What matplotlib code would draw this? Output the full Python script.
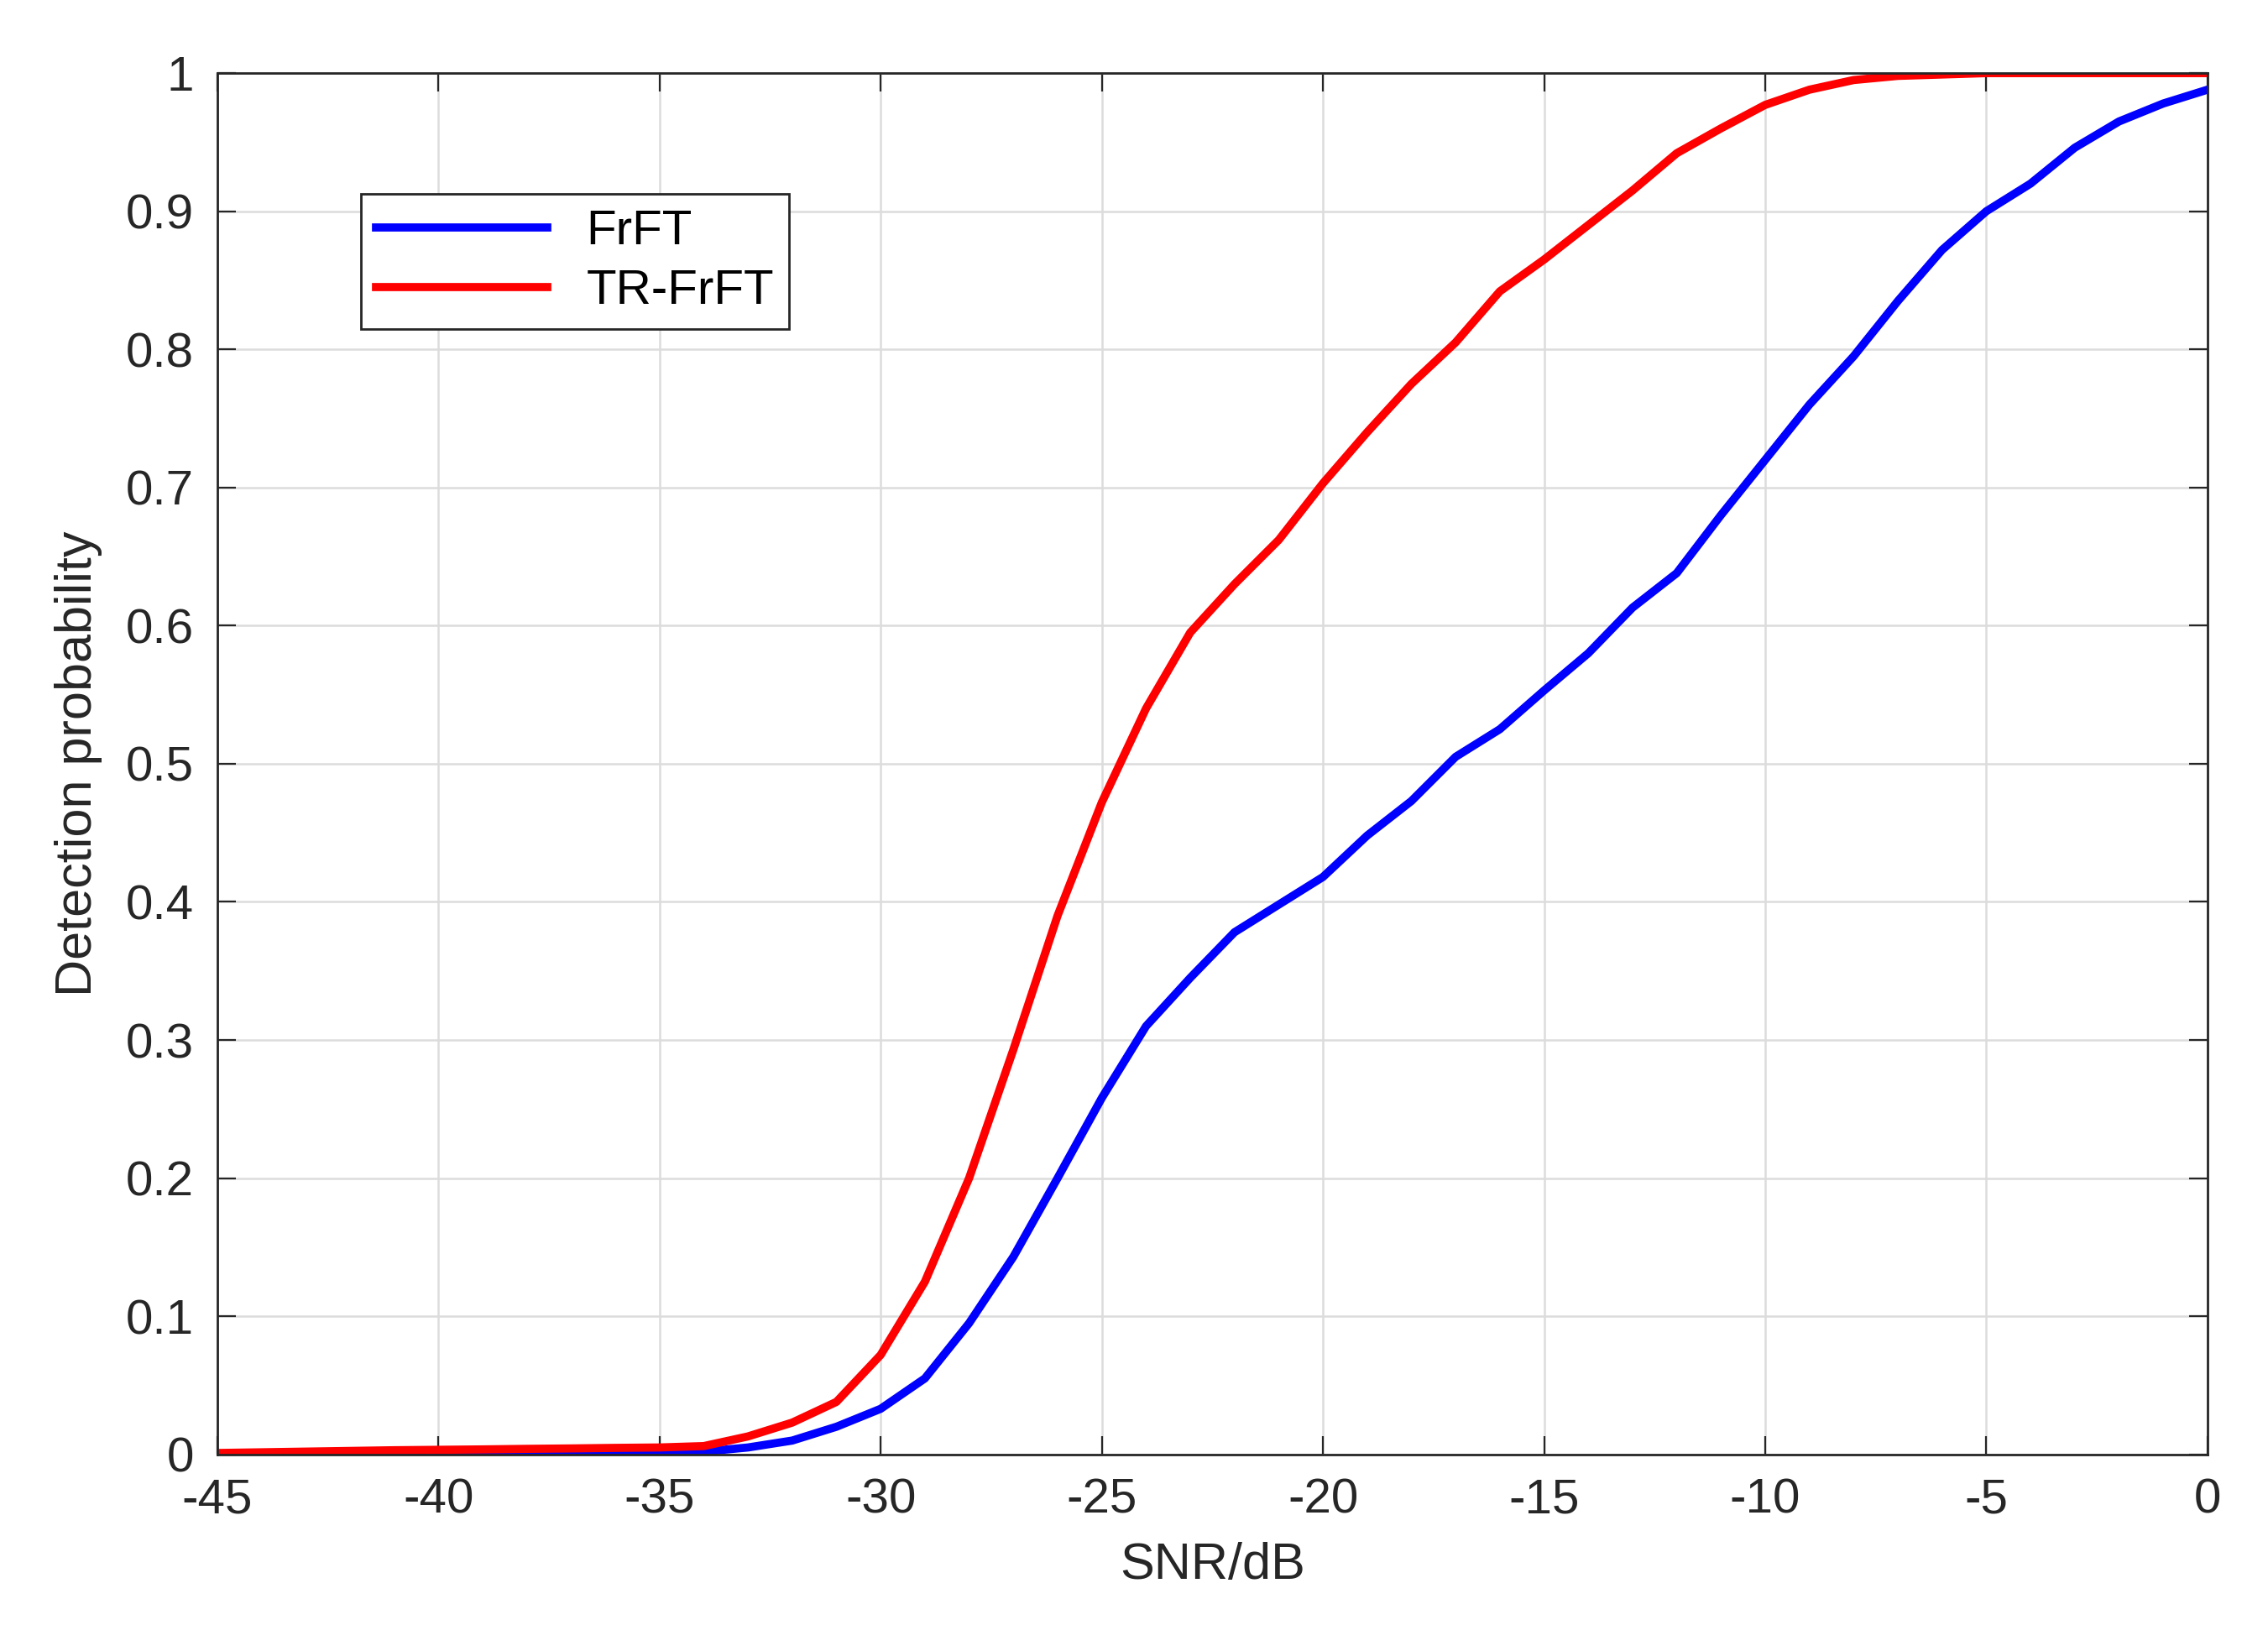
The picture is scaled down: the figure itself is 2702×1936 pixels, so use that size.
import matplotlib
matplotlib.use("Agg")
import matplotlib.pyplot as plt
import numpy as np

snr = list(range(-45, 1))
frft = [0.0005,0.0006,0.0007,0.0008,0.0009,0.001,0.0011,0.0012,0.0013,0.0014,0.0015,0.002,
        0.005,0.01,0.02,0.033,0.055,0.095,0.143,0.2,0.258,0.31,0.345,0.378,0.398,0.418,0.448,
        0.473,0.505,0.525,0.553,0.58,0.613,0.638,0.68,0.72,0.76,0.795,0.835,0.872,0.9,0.92,
        0.946,0.965,0.978,0.988]
trfrft = [0.001,0.0015,0.002,0.0025,0.003,0.0033,0.0036,0.004,0.0043,0.0047,0.005,0.006,
          0.013,0.023,0.038,0.072,0.125,0.2,0.293,0.39,0.472,0.54,0.595,0.63,0.662,0.703,0.74,
          0.775,0.805,0.842,0.865,0.89,0.915,0.942,0.96,0.977,0.988,0.995,0.998,0.999,1,1,
          1,1,1,1]
xticks = list(range(-45, 1, 5))
xticklabels = [str(v) for v in xticks]
yticks = [0, 0.1, 0.2, 0.3, 0.4, 0.5, 0.6, 0.7, 0.8, 0.9, 1]
yticklabels = ['0', '0.1', '0.2', '0.3', '0.4', '0.5', '0.6', '0.7', '0.8', '0.9', '1']

plt.rcParams['font.family'] = ['Liberation Sans', 'DejaVu Sans']
fig = plt.figure(figsize=(13.51, 9.68), dpi=200)
ax = fig.add_axes([0.0958, 0.105, 0.8775, 0.85])
ax.plot(snr, frft, color='#0000ff', lw=3.5, label='FrFT')
ax.plot(snr, trfrft, color='#ff0000', lw=3.5, label='TR-FrFT')
ax.set_xlim(-45, 0)
ax.set_ylim(0, 1)
ax.set_xticks(xticks)
ax.set_xticklabels(xticklabels)
ax.set_yticks(yticks)
ax.set_yticklabels(yticklabels)
ax.grid(True, color='#dcdcdc', lw=0.9)
ax.tick_params(direction='in', top=True, right=True, labelsize=21, length=8, color='#262626', labelcolor='#262626', pad=10)
for s in ax.spines.values():
    s.set_color('#262626'); s.set_linewidth(1.0)
ax.set_xlabel('SNR/dB', fontsize=22, color='#262626', labelpad=8)
ax.set_ylabel('Detection probability', fontsize=22, color='#262626', labelpad=10)
leg = ax.legend(loc='upper left', bbox_to_anchor=(0.06, 0.93), fontsize=21, fancybox=False,
                edgecolor='#262626', framealpha=1, handlelength=3.5, borderpad=0.3, labelspacing=0.3)
leg.get_frame().set_linewidth(1.0)
fig.savefig('out.png', dpi=200)
